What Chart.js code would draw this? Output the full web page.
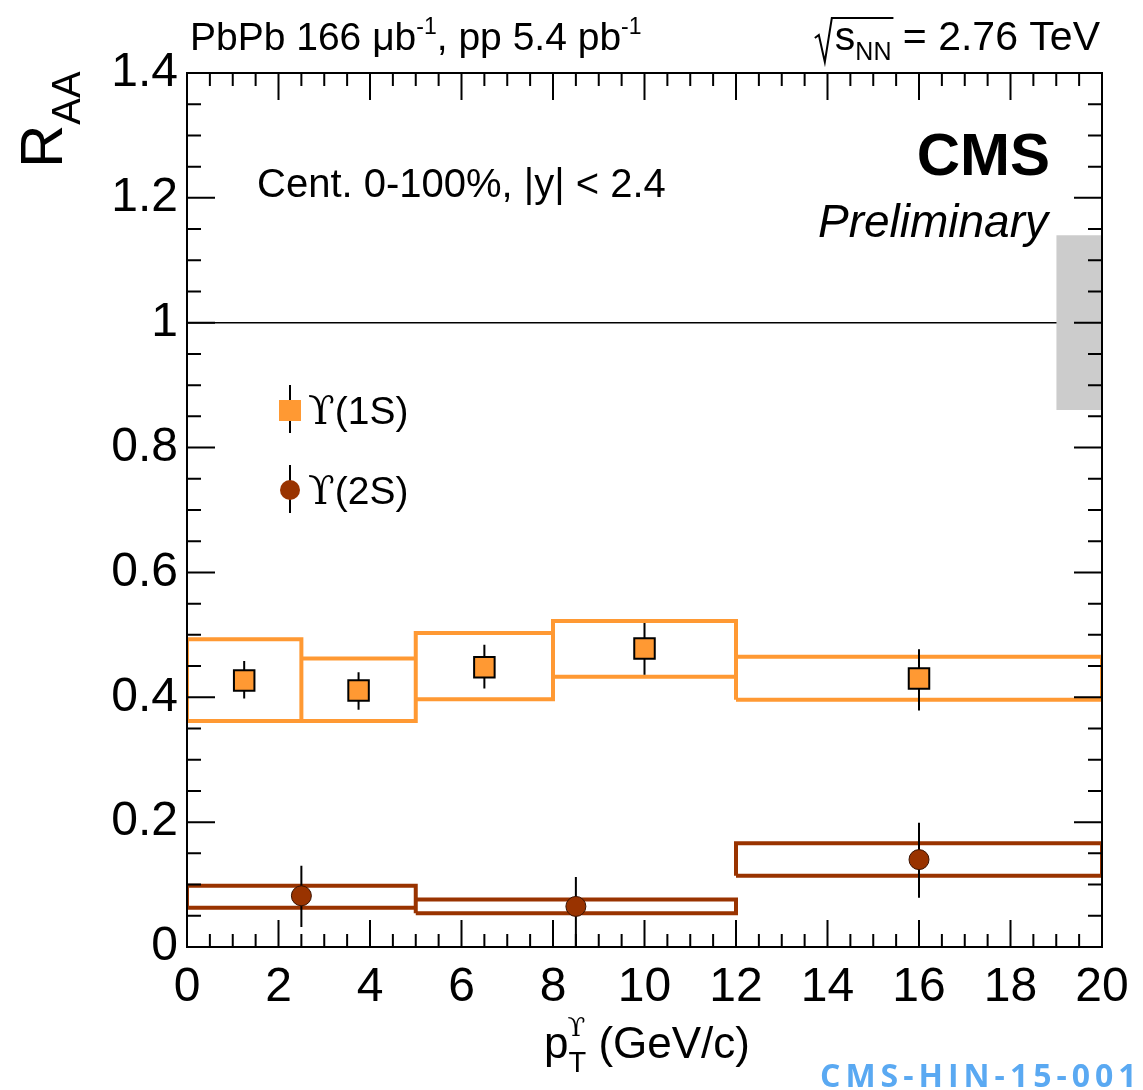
<!DOCTYPE html>
<html>
<head>
<meta charset="utf-8">
<script src="https://cdn.jsdelivr.net/npm/chart.js@4.4.1/dist/chart.umd.min.js"></script>
<style>
  html, body { margin: 0; padding: 0; background: #fff; }
</style>
</head>
<body>
<canvas id="raa_pt" width="1143" height="1090"></canvas>
<script>
/*_____________________DATA____________________*/

// Upsilon(1S): pt bins, RAA, stat errors, syst box edges
const binLo1S = [0, 2.5, 5, 8, 12];
const binHi1S = [2.5, 5, 8, 12, 20];
const pt1S = [1.25, 3.75, 6.5, 10, 16];
const raa1S = [0.427, 0.411, 0.448, 0.478, 0.430];
const errLo1S = [0.029, 0.031, 0.034, 0.042, 0.051];
const errHi1S = [0.031, 0.029, 0.036, 0.041, 0.047];
const sysLo1S = [0.362, 0.362, 0.397, 0.433, 0.396];
const sysHi1S = [0.493, 0.462, 0.503, 0.522, 0.465];

// Upsilon(2S)
const binLo2S = [0, 5, 12];
const binHi2S = [5, 12, 20];
const pt2S = [2.5, 8.5, 16];
const raa2S = [0.082, 0.065, 0.140];
const errLo2S = [0.050, 0.065, 0.061];
const errHi2S = [0.048, 0.047, 0.059];
const sysLo2S = [0.063, 0.054, 0.114];
const sysHi2S = [0.098, 0.076, 0.166];

// global uncertainty box around unity
const globalX = [19, 20];
const globalUnc = 0.14;

const xTicks = [0, 20, 2];     // min, max, step
const yTicks = [0, 1.4, 0.2];

const orange = '#ff9933';
const brown = '#993300';

/*_____________________HELPERS____________________*/

function boxes(lo, hi, bot, top) {
  const pts = [];
  for (let i = 0; i < lo.length; i++) {
    pts.push({x: lo[i], y: bot[i]}, {x: lo[i], y: top[i]},
             {x: hi[i], y: top[i]}, {x: hi[i], y: bot[i]},
             {x: lo[i], y: bot[i]}, {x: lo[i], y: null});
  }
  return pts;
}

function errBars(x, y, lo, hi) {
  const pts = [];
  for (let i = 0; i < x.length; i++) {
    pts.push({x: x[i], y: y[i] - lo[i]}, {x: x[i], y: y[i] + hi[i]}, {x: x[i], y: null});
  }
  return pts;
}

function points(x, y) {
  return x.map((v, i) => ({x: v, y: y[i]}));
}

// draw a run of text pieces: [text, font, dy]
function rich(ctx, x, y, parts, align) {
  let w = 0;
  parts.forEach(p => { ctx.font = p[1]; w += ctx.measureText(p[0]).width; });
  let cx = align === 'right' ? x - w : x;
  parts.forEach(p => {
    ctx.font = p[1];
    ctx.fillText(p[0], cx, y + (p[2] || 0));
    cx += ctx.measureText(p[0]).width;
  });
  return w;
}

const SANS = '"Liberation Sans", Arial, Helvetica, sans-serif';
const SERIF = '"DejaVu Serif", "Liberation Serif", serif';

/*_____________________DECORATION_PLUGIN____________________*/

const rootStyle = {
  id: 'rootStyle',
  afterDraw(chart) {
    const ctx = chart.ctx;
    const a = chart.chartArea;
    const xs = chart.scales.x, ys = chart.scales.y;
    ctx.save();
    ctx.strokeStyle = '#000';
    ctx.lineWidth = 2;
    ctx.strokeRect(a.left, a.top, a.right - a.left, a.bottom - a.top);

    // inward ticks on all four sides
    ctx.beginPath();
    for (let i = 0; i <= 40; i++) {
      const px = xs.getPixelForValue(i * 0.5);
      const len = i % 4 === 0 ? 27 : 13;
      ctx.moveTo(px, a.bottom); ctx.lineTo(px, a.bottom - len);
      ctx.moveTo(px, a.top); ctx.lineTo(px, a.top + len);
    }
    for (let i = 0; i <= 28; i++) {
      const py = ys.getPixelForValue(i * 0.05);
      const len = i % 4 === 0 ? 28 : 14;
      ctx.moveTo(a.left, py); ctx.lineTo(a.left + len, py);
      ctx.moveTo(a.right, py); ctx.lineTo(a.right - len, py);
    }
    ctx.stroke();

    ctx.fillStyle = '#000';
    ctx.textBaseline = 'alphabetic';

    // y title R_AA (rotated)
    ctx.save();
    ctx.translate(62, a.top + 95);
    ctx.rotate(-Math.PI / 2);
    ctx.font = '60px ' + SANS;
    ctx.fillText('R', 0, 0);
    const rw = ctx.measureText('R').width;
    ctx.font = '40px ' + SANS;
    ctx.fillText('AA', rw, 18);
    ctx.restore();

    // x title p_T^Y (GeV/c)
    ctx.textAlign = 'left';
    const tEnd = 750, tBase = 1058;
    const fBig = '44px ' + SANS, fSub = '29px ' + SANS;
    ctx.font = fBig;
    const rest = ' (GeV/c)';
    const restW = ctx.measureText(rest).width;
    const pW = ctx.measureText('p').width;
    ctx.font = fSub;
    const tW = ctx.measureText('T').width;
    const x0 = tEnd - restW - tW - pW;
    ctx.font = fBig;
    ctx.fillText('p', x0, tBase);
    ctx.fillText(rest, x0 + pW + tW, tBase);
    ctx.font = fSub;
    ctx.fillText('T', x0 + pW, tBase + 14);
    ctx.font = '26px ' + SERIF;
    ctx.fillText('ϒ', x0 + pW - 1, tBase - 22);

    // top labels
    const f37 = '39px ' + SANS, f22 = '23px ' + SANS;
    rich(ctx, 190, 50, [['PbPb 166 μb', f37], ['-1', f22, -16], [', pp 5.4 pb', f37], ['-1', f22, -16]], 'left');
    const f40 = '41px ' + SANS, f24 = '25px ' + SANS;
    const sw = rich(ctx, 1100, 50, [['s', f40], ['NN', f24, 10], [' = 2.76 TeV', f40]], 'right');
    ctx.font = f40;
    const sW = ctx.measureText('s').width;
    ctx.font = f24;
    const sqW = sW + ctx.measureText('NN').width;
    const sx = 1100 - sw;
    ctx.lineWidth = 2;
    ctx.beginPath();
    ctx.moveTo(sx - 20, 38);
    ctx.lineTo(sx - 16, 35);
    ctx.lineTo(sx - 10, 62);
    ctx.lineTo(sx - 3, 18);
    ctx.lineTo(sx + sqW + 2, 18);
    ctx.stroke();

    // Cent. label
    ctx.font = '40px ' + SANS;
    ctx.fillText('Cent. 0-100%, |y| < 2.4', 257, 197);

    // CMS Preliminary
    ctx.textAlign = 'right';
    ctx.font = 'bold 60px ' + SANS;
    ctx.fillText('CMS', 1050, 175);
    ctx.font = 'italic 46px ' + SANS;
    ctx.fillText('Preliminary', 1048, 237);

    // legend
    ctx.textAlign = 'left';
    const lx = a.left + 103;
    [[410, '(1S)', 'rect'], [490, '(2S)', 'circle']].forEach(function (it) {
      const ly = it[0];
      ctx.strokeStyle = '#000';
      ctx.lineWidth = 2;
      ctx.beginPath();
      ctx.moveTo(lx, ly - 25); ctx.lineTo(lx, ly + 23);
      ctx.stroke();
      if (it[2] === 'rect') {
        ctx.fillStyle = orange;
        ctx.fillRect(lx - 11, ly - 10, 22, 21);
      } else {
        ctx.fillStyle = brown;
        ctx.beginPath();
        ctx.arc(lx, ly, 10, 0, 2 * Math.PI);
        ctx.fill();
      }
      ctx.fillStyle = '#000';
      ctx.font = '39px ' + SERIF;
      ctx.fillText('ϒ', lx + 18, ly + 14);
      const yw = ctx.measureText('ϒ').width;
      ctx.font = '39px ' + SANS;
      ctx.fillText(it[1], lx + 18 + yw, ly + 14);
    });

    // watermark
    ctx.textAlign = 'left';
    ctx.fillStyle = '#5aa9f2';
    ctx.font = 'bold 32px "Open Sans", ' + SANS;
    if ('letterSpacing' in ctx) ctx.letterSpacing = '5px';
    ctx.fillText('CMS-HIN-15-001', 820, 1087);
    ctx.restore();
  }
};

/*_____________________CHART____________________*/

const raa_pt = document.getElementById('raa_pt');
const raa_setup = {
  datasets: [
    {
      label: 'Y(1S)',
      data: points(pt1S, raa1S),
      pointStyle: 'rect',
      pointRadius: 14.5,
      backgroundColor: orange,
      borderColor: '#000',
      borderWidth: 2,
      showLine: false,
      order: 0,
    },
    {
      label: 'Y(2S)',
      data: points(pt2S, raa2S),
      pointStyle: 'circle',
      pointRadius: 10,
      backgroundColor: brown,
      borderColor: '#3a1200',
      borderWidth: 1,
      showLine: false,
      order: 0,
    },
    {
      label: 'stat',
      data: errBars(pt1S, raa1S, errLo1S, errHi1S).concat(errBars(pt2S, raa2S, errLo2S, errHi2S)),
      showLine: true,
      borderColor: '#000',
      borderWidth: 2,
      pointRadius: 0,
      order: 1,
    },
    {
      label: 'syst 1S',
      data: boxes(binLo1S, binHi1S, sysLo1S, sysHi1S),
      showLine: true,
      borderColor: orange,
      borderWidth: 4,
      borderJoinStyle: 'miter',
      pointRadius: 0,
      order: 2,
    },
    {
      label: 'syst 2S',
      data: boxes(binLo2S, binHi2S, sysLo2S, sysHi2S),
      showLine: true,
      borderColor: brown,
      borderWidth: 4,
      borderJoinStyle: 'miter',
      pointRadius: 0,
      order: 2,
    },
    {
      label: 'global',
      data: [{x: globalX[0], y: 1 + globalUnc}, {x: globalX[1], y: 1 + globalUnc}],
      showLine: true,
      borderWidth: 0,
      borderColor: 'rgba(0,0,0,0)',
      backgroundColor: '#cccccc',
      fill: {value: 1 - globalUnc},
      pointRadius: 0,
      order: 3,
    },
    {
      label: 'unity',
      data: [{x: xTicks[0], y: 1}, {x: xTicks[1], y: 1}],
      showLine: true,
      borderColor: '#000',
      borderWidth: 1.5,
      pointRadius: 0,
      order: 4,
    },
  ]
};

new Chart(raa_pt, {
  type: 'scatter',
  data: raa_setup,
  plugins: [rootStyle],
  options: {
    responsive: false,
    animation: false,
    layout: {padding: {top: 73, right: 41, left: 0, bottom: 0}},
    plugins: {
      legend: {display: false},
      tooltip: {enabled: false},
    },
    scales: {
      x: {
        type: 'linear',
        min: xTicks[0], max: xTicks[1],
        grid: {display: false, drawTicks: false},
        border: {display: false},
        ticks: {
          stepSize: xTicks[2], autoSkip: false, maxRotation: 0,
          color: '#000', padding: 12,
          font: {family: SANS, size: 48},
        },
        afterFit: function (s) { s.height = 143; },
      },
      y: {
        min: yTicks[0], max: yTicks[1],
        grid: {display: false, drawTicks: false},
        border: {display: false},
        ticks: {
          stepSize: yTicks[2], color: '#000', padding: 9,
          font: {family: SANS, size: 48},
          callback: v => String(Number(v.toFixed(2))),
        },
        afterFit: function (s) { s.width = 187; },
      },
    },
  },
});
</script>
</body>
</html>
